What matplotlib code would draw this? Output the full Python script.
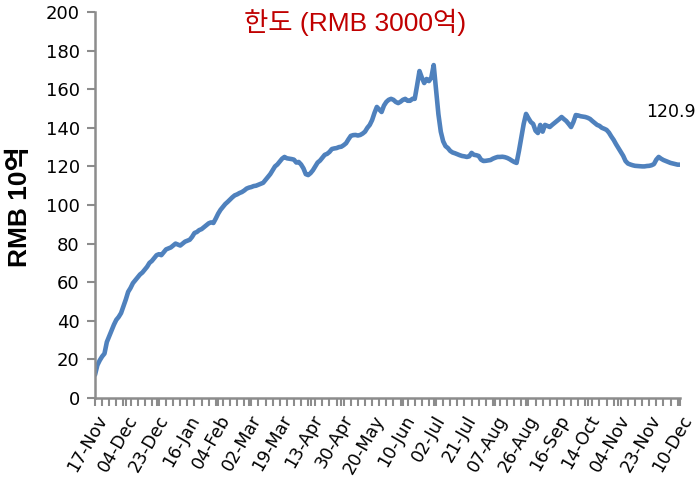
import matplotlib
matplotlib.use("Agg")
import matplotlib.pyplot as plt

# x-axis tick labels (every 13 trading days)
tick_labels = ["17-Nov", "04-Dec", "23-Dec", "16-Jan", "04-Feb", "02-Mar", "19-Mar",
               "13-Apr", "30-Apr", "20-May", "10-Jun", "02-Jul", "21-Jul", "07-Aug",
               "26-Aug", "16-Sep", "14-Oct", "04-Nov", "23-Nov", "10-Dec"]

# daily balance (RMB 10억), one value per trading day
values = [
    12, 17, 19.5, 21.5, 23, 29, 32, 35, 38, 40.5,
    42, 44, 47.5, 51, 55, 57, 59.5, 61, 62.5, 64,
    65, 66.5, 68, 70, 71, 72.5, 74, 74.5, 74, 75.5,
    77, 77.5, 78, 79, 80, 79.5, 79, 80, 81, 81.5,
    82, 83.5, 85.5, 86, 87, 87.5, 88.5, 89.5, 90.5, 91,
    90.7, 93, 95.5, 97.5, 99, 100.5, 101.6, 102.8, 104, 105,
    105.5, 106.2, 106.7, 107.5, 108.5, 109, 109.3, 109.8, 110, 110.5,
    111, 111.5, 113, 114.5, 116, 118, 120, 121, 122.5, 124,
    124.9, 124.2, 124, 123.8, 123.5, 122, 122.3, 121, 119, 116,
    115.5, 116.5, 118, 120, 122, 123, 124.5, 126, 126.5, 127.5,
    129, 129.3, 129.5, 130, 130.2, 131, 132, 134, 135.8, 136.2,
    136.3, 136, 136.3, 137, 138, 140, 141.5, 144, 147.7, 150.8,
    149.5, 148.2, 151.5, 153.4, 154.5, 155, 154.5, 153.4, 152.8, 153.5,
    154.5, 155, 154, 154, 155, 155, 162, 169.4, 166, 163.2,
    165.3, 164.2, 166, 172.5, 159.6, 147, 138, 133, 130.5, 129.5,
    128, 127.2, 126.8, 126.3, 125.8, 125.4, 125.2, 124.9, 125.2, 127,
    126, 125.8, 125.4, 123.5, 122.8, 122.9, 123.1, 123.3, 124, 124.5,
    124.9, 124.9, 125, 124.8, 124.4, 123.8, 123, 122.3, 121.8, 128,
    135, 142, 147.2, 145, 143, 142, 138.5, 137.3, 141.5, 138,
    141.5, 141, 140.4, 141.5, 142.5, 143.5, 144.5, 145.6, 144.5, 143.5,
    142, 140.4, 143, 146.6, 146.4, 146, 145.8, 145.6, 145.2, 144.6,
    143.5, 142.5, 141.5, 141, 140, 139.5, 138.9, 137.5, 135.5, 133.7,
    131.5, 129.5, 127.5, 125.5, 122.8, 121.5, 121, 120.6, 120.3, 120.2,
    120.1, 120, 120, 120.2, 120.3, 120.6, 121.2, 123.5, 124.9, 124,
    123.3, 122.8, 122.3, 121.8, 121.5, 121.2, 120.9, 120.9,
]
last_label = "120.9"
title_text = "한도 (RMB 3000억)"
ylabel_text = "RMB 10억"

LABEL_STEP = 13
TICK_STEP = 3

fig = plt.figure(figsize=(6.97, 4.88), dpi=100)
ax = fig.add_axes([95/697, 1-398/488, 585/697, 386/488])

x = list(range(len(values)))
ax.plot(x, values, color="#4F81BD", lw=3.3, solid_joinstyle="round", solid_capstyle="round")

ax.set_xlim(0, len(values) - 1)
ax.set_ylim(0, 200)
ax.set_yticks(range(0, 201, 20))

ax.set_xticks(range(0, len(values), TICK_STEP), minor=True)
major_pos = [i * LABEL_STEP for i in range(len(tick_labels))]
ax.set_xticks(major_pos)
ax.set_xticklabels(tick_labels, rotation=60, ha="right", rotation_mode="anchor",
                   fontsize=12.5, family="DejaVu Sans")
ax.tick_params(axis="x", which="both", length=6, width=1.5, color="#8c8c8c", direction="out", pad=4)
ax.tick_params(axis="y", length=6, width=1.5, color="#8c8c8c", direction="out", labelsize=13, pad=5)

for s in ["top", "right"]:
    ax.spines[s].set_visible(False)
for s in ["left", "bottom"]:
    ax.spines[s].set_color("#8c8c8c")
    ax.spines[s].set_linewidth(1.8)

ax.text(0.444, 0.972, title_text, transform=ax.transAxes, ha="center", va="center",
        color="#C00000", fontsize=19, family=["Liberation Sans", "Noto Sans CJK KR"])

fig.text(20/697, 1-207/488, ylabel_text, rotation=90, ha="center", va="center",
         fontsize=19, fontweight="bold", family=["Liberation Sans", "Noto Sans CJK KR"])

ax.text(232.5, 148, last_label, ha="left", va="center", fontsize=12.5, clip_on=False)

fig.savefig("out.png", dpi=100)
